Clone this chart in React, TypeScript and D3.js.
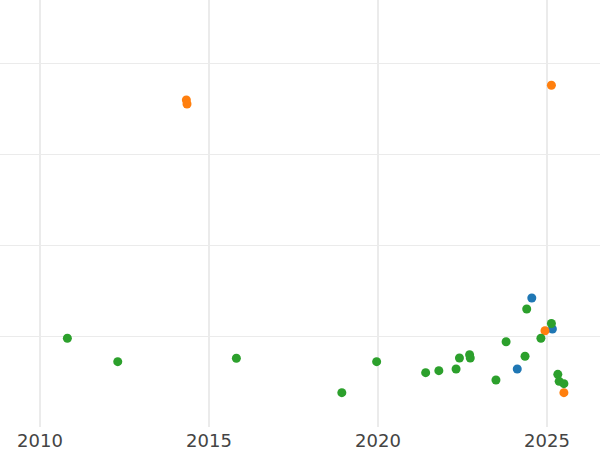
import React from "react";
import * as d3 from "d3";

const xTicks = [2010, 2015, 2020, 2025];
const yGrid = [1, 2, 3, 4];

const blueX = [2024.55, 2024.12, 2025.16];
const blueY = [1.418, 0.637, 1.077];

const orangeX = [2024.94, 2025.5, 2014.33, 2014.35, 2025.13];
const orangeY = [1.058, 0.377, 3.593, 3.549, 3.755];

const greenX = [
  2010.81, 2012.3, 2015.81, 2018.93, 2019.96, 2021.41, 2021.8, 2022.31, 2022.41, 2022.71,
  2022.73, 2023.49, 2023.79, 2024.35, 2024.4, 2024.82, 2025.13, 2025.32, 2025.36, 2025.5,
];
const greenY = [
  0.975, 0.718, 0.755, 0.377, 0.718, 0.597, 0.619, 0.637, 0.758, 0.795,
  0.758, 0.516, 0.937, 0.777, 1.297, 0.975, 1.137, 0.579, 0.502, 0.476,
];

const series = [
  { name: "blue", color: "#1f77b4", xs: blueX, ys: blueY },
  { name: "orange", color: "#ff7f0e", xs: orangeX, ys: orangeY },
  { name: "green", color: "#2ca02c", xs: greenX, ys: greenY },
];

export default function App() {
  const W = 600;
  const H = 450;
  const plotBottom = 427;
  const x = d3.scaleLinear().domain([2008.8166, 2026.568]).range([0, W]);
  const y = d3.scaleLinear().domain([0, 427 / 91]).range([plotBottom, 0]);

  return (
    <svg
      width={W}
      height={H}
      style={{ position: "absolute", left: 0, top: 0, background: "#fff" }}
    >
      <g>
        {yGrid.map((v) => (
          <line
            key={"h" + v}
            x1={0}
            x2={W}
            y1={Math.round(y(v)) + 0.5}
            y2={Math.round(y(v)) + 0.5}
            stroke="#ebebeb"
            strokeWidth={1}
          />
        ))}
        {xTicks.map((t) => (
          <line
            key={"v" + t}
            x1={x(t)}
            x2={x(t)}
            y1={0}
            y2={plotBottom}
            stroke="#ebebeb"
            strokeWidth={2}
          />
        ))}
      </g>
      {series.map((s) => (
        <g key={s.name}>
          {s.xs.map((xv, i) => (
            <circle key={i} cx={x(xv)} cy={y(s.ys[i])} r={4.5} fill={s.color} />
          ))}
        </g>
      ))}
      <g>
        {xTicks.map((t) => (
          <text
            key={"t" + t}
            x={x(t)}
            y={447}
            textAnchor="middle"
            fontFamily="DejaVu Sans"
            fontSize={18}
            fill="#444"
          >
            {t}
          </text>
        ))}
      </g>
    </svg>
  );
}
